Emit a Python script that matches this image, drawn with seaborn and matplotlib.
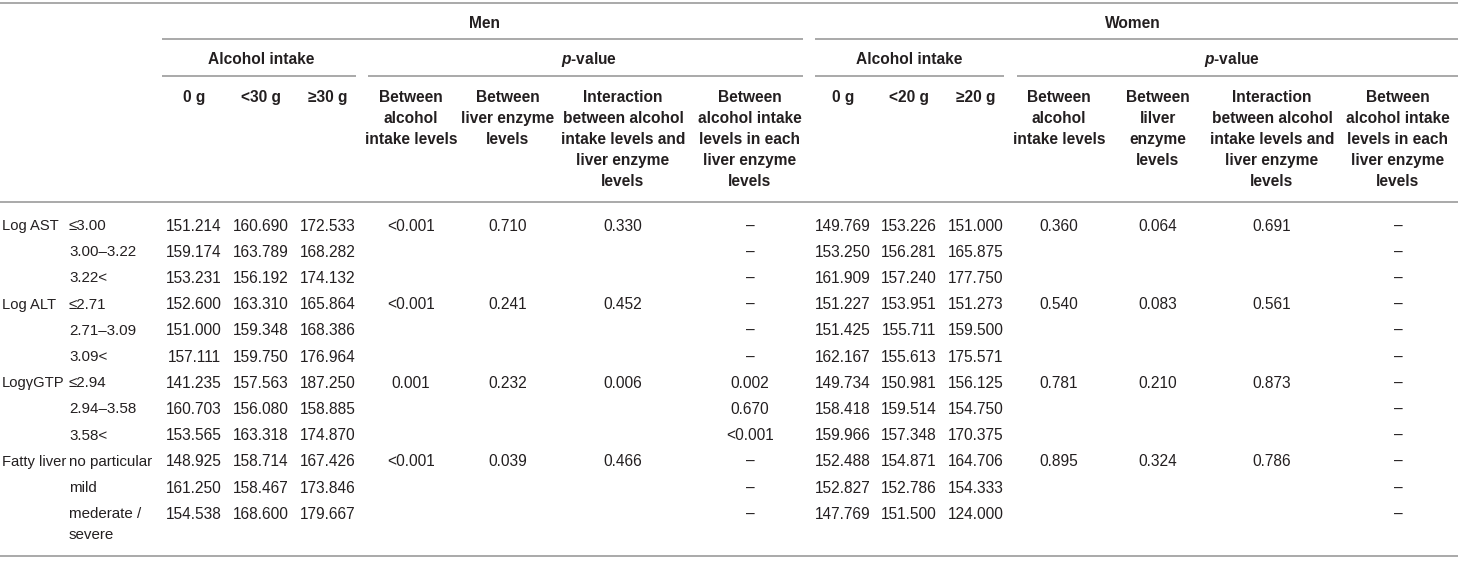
import matplotlib
matplotlib.use("Agg")
import matplotlib.pyplot as plt
import seaborn as sns

# table content
groups = ["Log AST", "Log ALT", "LogγGTP", "Fatty liver"]
levels = [
    ["≤3.00", "3.00–3.22", "3.22<"],
    ["≤2.71", "2.71–3.09", "3.09<"],
    ["≤2.94", "2.94–3.58", "3.58<"],
    ["no particular", "mild", "mederate /\nsevere"],
]

men_intake = ["0 g", "<30 g", "≥30 g"]
women_intake = ["0 g", "<20 g", "≥20 g"]

men_means = [
    [151.214, 160.690, 172.533],
    [159.174, 163.789, 168.282],
    [153.231, 156.192, 174.132],
    [152.600, 163.310, 165.864],
    [151.000, 159.348, 168.386],
    [157.111, 159.750, 176.964],
    [141.235, 157.563, 187.250],
    [160.703, 156.080, 158.885],
    [153.565, 163.318, 174.870],
    [148.925, 158.714, 167.426],
    [161.250, 158.467, 173.846],
    [154.538, 168.600, 179.667],
]
women_means = [
    [149.769, 153.226, 151.000],
    [153.250, 156.281, 165.875],
    [161.909, 157.240, 177.750],
    [151.227, 153.951, 151.273],
    [151.425, 155.711, 159.500],
    [162.167, 155.613, 175.571],
    [149.734, 150.981, 156.125],
    [158.418, 159.514, 154.750],
    [159.966, 157.348, 170.375],
    [152.488, 154.871, 164.706],
    [152.827, 152.786, 154.333],
    [147.769, 151.500, 124.000],
]

# p-values, one per group
men_p_alcohol = ["<0.001", "<0.001", "0.001", "<0.001"]
men_p_liver = ["0.710", "0.241", "0.232", "0.039"]
men_p_inter = ["0.330", "0.452", "0.006", "0.466"]
# one per row
men_p_each = ["–", "–", "–", "–", "–", "–", "0.002", "0.670", "<0.001", "–", "–", "–"]

women_p_alcohol = ["0.360", "0.540", "0.781", "0.895"]
women_p_liver = ["0.064", "0.083", "0.210", "0.324"]
women_p_inter = ["0.691", "0.561", "0.873", "0.786"]
women_p_each = ["–"] * 12

men_p_heads = [
    ["Between", "alcohol", "intake levels"],
    ["Between", "liver enzyme", "levels"],
    ["Interaction", "between alcohol", "intake levels and", "liver enzyme", "levels"],
    ["Between", "alcohol intake", "levels in each", "liver enzyme", "levels"],
]
women_p_heads = [
    ["Between", "alcohol", "intake levels"],
    ["Between", "lilver", "enzyme", "levels"],
    ["Interaction", "between alcohol", "intake levels and", "liver enzyme", "levels"],
    ["Between", "alcohol intake", "levels in each", "liver enzyme", "levels"],
]

# layout (pixels)
W, H = 1458, 561
men_x = [194, 261, 328]
men_px = [411, 508, 623, 750]
women_x = [843, 909, 976]
women_px = [1059, 1158, 1272, 1398]
row_y0, row_dy = 226, 26.2
head_y0, head_dy = 97, 21.2

sns.set_theme(style="white")
plt.rcParams["font.family"] = ["Liberation Sans", "DejaVu Sans"]
plt.rcParams["mathtext.fontset"] = "custom"
plt.rcParams["mathtext.it"] = "Liberation Sans:italic:bold"

txt = "#231f20"
line_c = "#a9a9a9"
fs = 11.2

fig = plt.figure(figsize=(W / 100, H / 100), dpi=100)
ax = fig.add_axes([0, 0, 1, 1])
ax.set_xlim(0, W)
ax.set_ylim(H, 0)
ax.axis("off")


def hline(y, x0, x1, lw=1.4):
    ax.plot([x0, x1], [y, y], color=line_c, lw=lw, solid_capstyle="butt")


def t(x, y, s, ha="center", bold=False, size=fs):
    ax.text(x, y, s, ha=ha, va="center", fontsize=size, color=txt,
            fontweight="bold" if bold else "normal")


# rules
hline(3, 0, W)
hline(39, 162, 803)
hline(39, 815, W)
hline(76, 162, 356)
hline(76, 368, 803)
hline(76, 815, 1004)
hline(76, 1017, W)
hline(202, 0, W)
hline(556, 0, W)

# top headers
t(485, 23, "Men", bold=True)
t(1133, 23, "Women", bold=True)
t(261, 59, "Alcohol intake", bold=True)
t(589, 59, "$p$-value", bold=True)
t(909, 59, "Alcohol intake", bold=True)
t(1232, 59, "$p$-value", bold=True)

for x, s in zip(men_x, men_intake):
    t(x, head_y0, s, bold=True)
for x, s in zip(women_x, women_intake):
    t(x, head_y0, s, bold=True)
for x, lines in zip(men_px, men_p_heads):
    for k, s in enumerate(lines):
        t(x, head_y0 + k * head_dy, s, bold=True)
for x, lines in zip(women_px, women_p_heads):
    for k, s in enumerate(lines):
        t(x, head_y0 + k * head_dy, s, bold=True)

# body
for g, name in enumerate(groups):
    gy = row_y0 + g * 3 * row_dy
    t(2, gy, name, ha="left", size=10.6)
    for j in range(3):
        y = gy + j * row_dy
        lv = levels[g][j].split("\n")
        for k, s in enumerate(lv):
            t(69, y + k * 21, s, ha="left", size=10.9)
    # group p-values on first row of each group
    for x, vals in zip(men_px[:3], [men_p_alcohol, men_p_liver, men_p_inter]):
        t(x, gy, vals[g])
    for x, vals in zip(women_px[:3], [women_p_alcohol, women_p_liver, women_p_inter]):
        t(x, gy, vals[g])

for i in range(len(men_means)):
    y = row_y0 + i * row_dy
    for x, v in zip(men_x, men_means[i]):
        t(x, y, f"{v:.3f}")
    for x, v in zip(women_x, women_means[i]):
        t(x, y, f"{v:.3f}")
    t(men_px[3], y, men_p_each[i])
    t(women_px[3], y, women_p_each[i])

fig.savefig("out.png", dpi=100, facecolor="white")
